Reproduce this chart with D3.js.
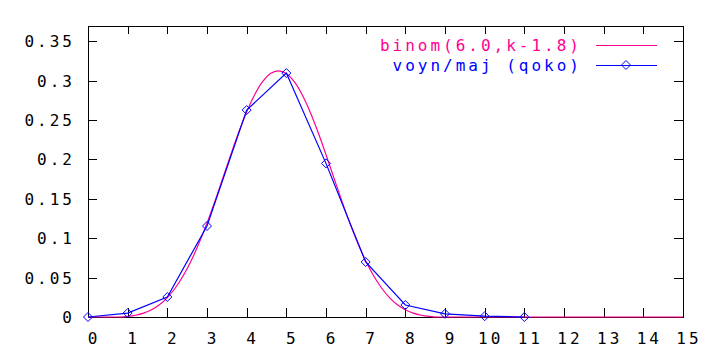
<!DOCTYPE html>
<meta charset="utf-8">
<head>
	<title>binom</title>
</head>

<style>
	body { margin: 0; background: #fff; }
	text { font-family: "DejaVu Sans Mono", "Liberation Mono", monospace; font-size: 16px; letter-spacing: 3px; }
</style>

<body>
	<svg width="720" height="360"></svg>

	<script src="https://cdn.jsdelivr.net/npm/d3@7/dist/d3.min.js"></script>
	<script>
// binom(6.0,k-1.8) curve, sampled
var binomX = [0, 0.8, 1.0, 1.2, 1.4, 1.6, 1.8, 2.0, 2.2, 2.4, 2.6, 2.8, 3.0, 3.2, 3.4, 3.6, 3.8, 4.0, 4.2, 4.4, 4.6, 4.8,
	5.0, 5.2, 5.4, 5.6, 5.8, 6.0, 6.2, 6.4, 6.6, 6.8, 7.0, 7.2, 7.4, 7.6, 7.8, 8.0, 8.2, 8.4, 8.6, 8.8, 15];
var binomY = [0, 0, 0.0007, 0.0022, 0.0049, 0.0092, 0.0156, 0.0247, 0.0368, 0.0523, 0.0713, 0.0938, 0.1192, 0.1471, 0.1765, 0.206, 0.2344, 0.2603, 0.282, 0.2987, 0.309, 0.3125,
	0.309, 0.2987, 0.282, 0.2603, 0.2344, 0.206, 0.1765, 0.1471, 0.1192, 0.0938, 0.0713, 0.0523, 0.0368, 0.0247, 0.0156, 0.0092, 0.0049, 0.0022, 0.0007, 0, 0];

// voyn/maj (qoko) points
var qokoX = [0, 1, 2, 3, 4, 5, 6, 7, 8, 9, 10, 11];
var qokoY = [0, 0.005, 0.0254, 0.1155, 0.2627, 0.3096, 0.195, 0.0698, 0.0152, 0.004, 0.001, 0];

var xTicks = d3.range(0, 16);
var yTicks = [0, 0.05, 0.1, 0.15, 0.2, 0.25, 0.3, 0.35];
var legendLabels = ['binom(6.0,k-1.8)', 'voyn/maj (qoko)'];

var pink = '#ff0090', blue = '#0000ff';
var padL = 88, padR = 683, padT = 25.5, padB = 317;

var svg = d3.select('svg');
var x = d3.scaleLinear().domain([0, 15]).range([padL, padR]);
var y = d3.scaleLinear().domain([0, 0.37]).range([padB, padT]);

var g = svg.append('g').attr('shape-rendering', 'crispEdges');

// inward ticks on all four sides
g.selectAll('.xt').data(xTicks).enter().append('path')
	.attr('d', function(d) {
		var px = Math.round(x(d)) + 0.5;
		return 'M' + px + ',' + padB + 'V' + (padB - 9) + 'M' + px + ',' + padT + 'V' + (padT + 8);
	})
	.attr('stroke', '#000');
g.selectAll('.yt').data(yTicks).enter().append('path')
	.attr('d', function(d) {
		var py = Math.round(y(d)) + 0.5;
		return 'M' + padL + ',' + py + 'H' + (padL + 9) + 'M' + padR + ',' + py + 'H' + (padR - 9);
	})
	.attr('stroke', '#000');

g.append('rect')
	.attr('x', padL + 0.5).attr('y', Math.round(padT) + 0.5)
	.attr('width', padR - padL).attr('height', padB - Math.round(padT))
	.attr('fill', 'none').attr('stroke', '#000');

svg.selectAll('.xl').data(xTicks).enter().append('text')
	.attr('x', function(d) { return x(d) + 6; })
	.attr('y', 344)
	.attr('text-anchor', 'middle')
	.text(function(d) { return d; });

svg.selectAll('.yl').data(yTicks).enter().append('text')
	.attr('x', 75)
	.attr('y', function(d) { return y(d) + 6; })
	.attr('text-anchor', 'end')
	.text(function(d) { return d; });

var line = d3.line()
	.x(function(d) { return x(d[0]); })
	.y(function(d) { return y(d[1]); });

svg.append('path')
	.datum(d3.zip(binomX, binomY))
	.attr('d', line.curve(d3.curveMonotoneX))
	.attr('fill', 'none').attr('stroke', pink).attr('stroke-width', 1.2);

svg.append('path')
	.datum(d3.zip(qokoX, qokoY))
	.attr('d', line.curve(d3.curveLinear))
	.attr('fill', 'none').attr('stroke', blue).attr('stroke-width', 1.2);

function diamond(sel) {
	sel.attr('d', 'M0,-4.5L4.5,0L0,4.5L-4.5,0Z')
		.attr('fill', 'none').attr('stroke', blue).attr('stroke-width', 1);
}

svg.selectAll('.pt').data(d3.zip(qokoX, qokoY)).enter().append('path')
	.attr('transform', function(d) { return 'translate(' + x(d[0]) + ',' + y(d[1]) + ')'; })
	.call(diamond);

// legend
var colors = [pink, blue];
legendLabels.forEach(function(lbl, i) {
	var ly = 45 + i * 20;
	svg.append('text')
		.attr('x', 582).attr('y', ly + 6)
		.attr('text-anchor', 'end')
		.attr('fill', colors[i])
		.text(lbl);
	svg.append('line')
		.attr('x1', 596).attr('x2', 657)
		.attr('y1', ly + 0.5).attr('y2', ly + 0.5)
		.attr('stroke', colors[i]).attr('stroke-width', 1.2);
	if (i == 1) {
		svg.append('path')
			.attr('transform', 'translate(626,' + ly + ')')
			.call(diamond);
	}
});
	</script>
</body>
</html>
